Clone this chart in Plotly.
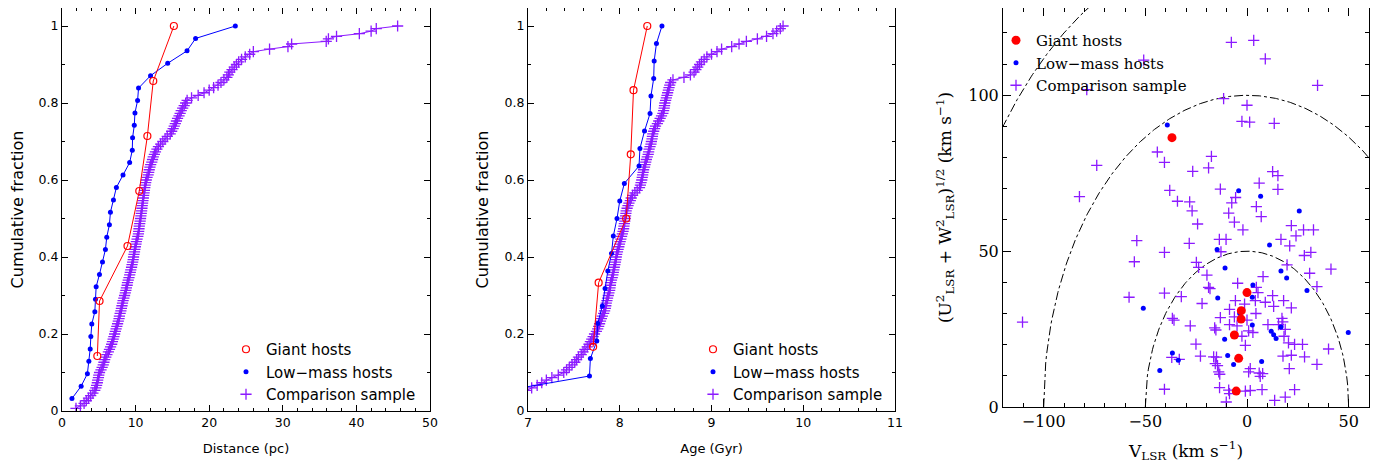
import plotly.graph_objects as go

# ---- panel 1: distance (pc) ----
giant_dist = [4.8, 5.1, 8.9, 10.5, 11.6, 12.4, 15.2]
lowmass_dist = [1.35, 2.6, 3.45, 3.65, 3.83, 3.92, 4.05, 4.46, 4.55, 4.64,
                5.09, 5.5, 5.9, 6.08, 6.44, 6.58, 6.99, 7.39, 8.29, 9.19,
                9.55, 9.59, 9.82, 9.91, 10.27, 10.4, 12.03, 14.36, 16.99, 18.15,
                23.55]
comp_dist = [1.9, 2.5, 3.0, 3.3, 3.6, 3.9, 4.2, 4.45, 4.6, 4.7,
             4.8, 4.85, 4.95, 5.0, 5.1, 5.3, 5.45, 5.6, 5.7, 5.8,
             5.95, 6.1, 6.3, 6.45, 6.6, 6.75, 6.85, 6.95, 7.05, 7.15,
             7.25, 7.35, 7.45, 7.55, 7.65, 7.75, 7.8, 7.9, 8.0, 8.07,
             8.15, 8.22, 8.3, 8.4, 8.5, 8.6, 8.68, 8.75, 8.85, 8.9,
             9.0, 9.1, 9.2, 9.28, 9.35, 9.45, 9.52, 9.6, 9.67, 9.72,
             9.78, 9.85, 9.9, 9.97, 10.05, 10.1, 10.2, 10.3, 10.38, 10.42,
             10.46, 10.5, 10.56, 10.62, 10.67, 10.72, 10.77, 10.82, 10.86, 10.9,
             10.95, 11.0, 11.05, 11.1, 11.15, 11.2, 11.25, 11.3, 11.37, 11.45,
             11.55, 11.7, 11.78, 11.85, 11.95, 12.05, 12.2, 12.3, 12.4, 12.55,
             12.7, 12.9, 13.1, 13.4, 13.7, 14.0, 14.3, 14.7, 14.9, 15.1,
             15.25, 15.4, 15.55, 15.7, 15.9, 16.05, 16.2, 16.4, 16.6, 16.8,
             17.0, 17.6, 18.5, 19.3, 20.0, 20.6, 21.2, 21.6, 22.0, 22.4,
             22.6, 22.8, 23.1, 23.4, 23.7, 24.0, 24.4, 24.9, 25.5, 26.0,
             28.2, 30.7, 31.2, 35.9, 36.2, 37.3, 40.4, 42.0, 42.7, 45.6]

# ---- panel 2: age (Gyr) ----
giant_age = [7.71, 7.77, 8.07, 8.12, 8.15, 8.30]
lowmass_age = [6.57, 7.67, 7.68, 7.75, 7.76, 7.81, 7.84, 7.87, 7.91, 7.93,
               7.97, 8.00, 8.05, 8.21, 8.22, 8.27, 8.33, 8.34, 8.37, 8.375,
               8.40, 8.46]
comp_age = [5.8, 6.2, 6.4, 6.6, 6.75, 6.85, 6.93, 6.98, 7.04, 7.10,
            7.15, 7.20, 7.26, 7.33, 7.39, 7.42, 7.45, 7.48, 7.51, 7.53,
            7.55, 7.58, 7.60, 7.62, 7.645, 7.665, 7.68, 7.695, 7.71, 7.725,
            7.745, 7.76, 7.77, 7.78, 7.79, 7.80, 7.81, 7.825, 7.835, 7.843,
            7.848, 7.853, 7.86, 7.867, 7.875, 7.882, 7.89, 7.894, 7.898, 7.902,
            7.91, 7.918, 7.925, 7.93, 7.935, 7.94, 7.947, 7.953, 7.958, 7.962,
            7.967, 7.975, 7.982, 7.99, 7.997, 8.004, 8.012, 8.02, 8.028, 8.036,
            8.042, 8.046, 8.05, 8.055, 8.06, 8.063, 8.067, 8.07, 8.08, 8.09,
            8.10, 8.115, 8.125, 8.14, 8.165, 8.19, 8.215, 8.225, 8.232, 8.24,
            8.245, 8.25, 8.255, 8.26, 8.27, 8.276, 8.283, 8.29, 8.30, 8.31,
            8.315, 8.32, 8.33, 8.34, 8.345, 8.352, 8.356, 8.36, 8.37, 8.38,
            8.39, 8.41, 8.425, 8.44, 8.455, 8.47, 8.478, 8.484, 8.488, 8.492,
            8.50, 8.508, 8.515, 8.522, 8.53, 8.537, 8.545, 8.555, 8.58, 8.70,
            8.77, 8.81, 8.83, 8.85, 8.87, 8.89, 8.92, 8.95, 9.0, 9.06,
            9.11, 9.22, 9.30, 9.38, 9.50, 9.60, 9.67, 9.71, 9.75, 9.78]

# ---- panel 3: Toomre diagram (km/s) ----
giant_v = [-36.9, 0.0, -2.8, -2.9, -6.2, -4.1, -5.3]
giant_uw = [86.4, 36.7, 30.9, 28.2, 23.1, 15.6, 5.1]
lowmass_v = [-39.2, -4.1, 6.7, -51.0, -36.7, -33.8, -42.9, 25.7, 11.1, -14.7,
             -10.8, 16.7, 19.5, 29.5, 2.9, -14.4, 2.6, -3.6, 2.6, 16.7,
             11.9, 13.1, 14.3, -11.0, 49.8, -9.5, -6.6, 7.2]
lowmass_uw = [90.5, 69.4, 67.6, 31.7, 17.3, 15.0, 11.7, 62.9, 52.0, 50.5,
              44.6, 43.6, 41.4, 37.4, 39.1, 35.0, 35.2, 30.0, 26.3, 25.7,
              24.3, 23.2, 22.0, 21.7, 23.9, 16.5, 13.6, 14.6]
comp_v = [-78.8, -50.8, 19.7, -7.7, 3.3, 9.0, 34.7, -11.5, 0.0, -2.5,
          1.3, 13.4, -73.9, -82.4, -44.1, -40.6, -38.0, -34.2, -28.2, -17.5,
          -26.7, -18.9, 12.6, 15.2, -13.1, 6.0, 15.2, -5.6, -7.5, -27.0,
          4.6, -9.0, 7.0, -24.3, -6.2, 21.8, -2.0, 24.1, 27.8, 32.7,
          -13.6, -10.3, -28.4, 16.7, 21.0, -40.6, -12.8, 28.2, 31.4, -24.9,
          -23.8, 19.7, 41.3, -19.7, 7.9, 30.8, -4.6, -18.9, -18.2, 34.4,
          -40.6, -32.3, 4.6, 5.4, 12.6, 18.0, 4.1, -5.7, -22.1, 9.0,
          13.1, -1.2, 21.8, -8.6, -13.1, -6.2, 4.4, 0.0, 17.2, 17.6,
          -27.9, -15.9, -15.3, -8.6, -4.9, 0.8, 2.9, 10.3, 15.5, 18.8,
          -2.5, 18.2, -25.1, -0.8, 20.4, 23.4, 27.3, 40.1, -22.9, -16.4,
          -15.0, -15.6, -14.5, -13.9, 1.6, 0.8, 17.7, 21.8, 28.3, 34.4,
          20.8, 6.0, 7.7, 6.5, -13.5, -9.0, -8.6, -0.8, 1.6, 7.4,
          23.4, -10.2, 13.6, 18.8, -54.2, -55.4, -58.0, -110.4, -36.7, -35.9,
          -37.0, -33.3, -40.6, -13.4]
comp_uw = [101.8, 111.3, 129.9, 117.0, 117.6, 111.7, 103.2, 98.9, 96.8, 91.6,
           91.4, 91.0, 77.5, 67.5, 81.8, 78.5, 69.5, 66.0, 65.8, 80.4,
           75.6, 76.7, 75.5, 74.2, 69.9, 71.8, 69.8, 67.2, 65.5, 62.9,
           64.3, 62.2, 61.1, 58.7, 59.3, 58.2, 56.8, 54.9, 56.8, 56.8,
           53.8, 53.8, 52.5, 53.8, 51.7, 49.6, 49.8, 48.6, 49.6, 46.4,
           44.8, 45.6, 44.2, 42.3, 41.8, 42.9, 39.7, 38.4, 38.0, 38.6,
           36.5, 35.4, 38.4, 36.7, 35.7, 34.1, 34.1, 34.1, 33.2, 33.6,
           32.3, 33.0, 31.8, 31.3, 28.7, 28.9, 30.0, 27.9, 28.4, 27.3,
           26.0, 25.4, 24.7, 26.4, 26.0, 24.4, 23.9, 26.4, 26.4, 24.9,
           22.7, 22.7, 20.2, 19.8, 20.6, 20.1, 20.1, 18.6, 16.3, 16.1,
           16.0, 13.9, 13.3, 11.3, 12.3, 11.3, 16.3, 16.6, 16.1, 13.7,
           12.3, 10.9, 10.7, 9.8, 6.2, 5.4, 4.3, 5.1, 5.3, 5.6,
           5.6, 1.6, 2.1, 3.2, 53.4, 46.6, 35.2, 27.2, 28.4, 27.9,
           15.9, 15.3, 5.7, 10.5]
total_speed = [50, 100, 150]
v_grid = [v / 2 for v in range(-300, 301)]

RED, BLUE, PURPLE = '#ff0000', '#0000ff', '#8c1aff'
SANS = 'DejaVu Sans'
SERIF = 'DejaVu Serif'


def cumulative(values):
    xs = sorted(values)
    n = len(xs)
    return xs, [(i + 1) / n for i in range(n)]


cross = dict(symbol='cross-thin-open', size=8, color=PURPLE, line=dict(width=1.3, color=PURPLE))
dot = dict(symbol='circle', size=5, color=BLUE, line=dict(width=0))

fig = go.Figure()

styles = [
    ('Comparison sample', PURPLE, cross, 3),
    ('Low−mass hosts', BLUE, dot, 2),
    ('Giant hosts', RED, dict(symbol='circle-open', size=7, color=RED, line=dict(width=1.2, color=RED)), 1),
]

panels = [
    ('x', 'y', 'legend', [comp_dist, lowmass_dist, giant_dist]),
    ('x2', 'y2', 'legend2', [comp_age, lowmass_age, giant_age]),
]
for xa, ya, leg, sets in panels:
    for (name, col, mk, rank), vals in zip(styles, sets):
        xs, fr = cumulative(vals)
        fig.add_trace(go.Scatter(x=xs, y=fr, mode='lines', line=dict(color=col, width=1),
                                 xaxis=xa, yaxis=ya, showlegend=False, hoverinfo='skip'))
        fig.add_trace(go.Scatter(x=xs, y=fr, mode='markers', marker=mk, name=name,
                                 xaxis=xa, yaxis=ya, legend=leg, legendrank=rank))

# Toomre diagram guide circles
for r in total_speed:
    vs = [v for v in v_grid if abs(v) <= r]
    fig.add_trace(go.Scatter(x=vs, y=[max(r * r - v * v, 0) ** 0.5 for v in vs], mode='lines',
                             line=dict(color='black', width=1, dash='dashdot'),
                             xaxis='x3', yaxis='y3', showlegend=False, hoverinfo='skip'))

scatter_sets = [
    ('Comparison sample', comp_v, comp_uw, cross, 3),
    ('Low−mass hosts', lowmass_v, lowmass_uw, dot, 2),
    ('Giant hosts', giant_v, giant_uw, dict(symbol='circle', size=9, color=RED, line=dict(width=0)), 1),
]
for name, xs, ys, mk, rank in scatter_sets:
    fig.add_trace(go.Scatter(x=xs, y=ys, mode='markers', marker=mk, name=name,
                             xaxis='x3', yaxis='y3', legend='legend3', legendrank=rank))

frame = dict(showline=True, linecolor='black', linewidth=1, mirror='ticks',
             ticks='inside', tickcolor='black', tickwidth=1, showgrid=False,
             zeroline=False)

# the page adds an 8px body margin, so the figure is laid out 8px up/left
OFF = 8
W, H = 1386 - OFF, 470 - OFF
L, R, T, B = 62 - OFF, 17, 0, 59
pw, ph = W - L - R, H - T - B


def xdom(a, b):
    return [(a - OFF - L) / pw, (b - OFF - L) / pw]


def ydom(top, bot):
    return [(H - B - (bot - OFF)) / ph, (H - B - (top - OFF)) / ph]


def lx(px):
    return (px - OFF - L) / pw


def ly(py):
    return (H - B - (py - OFF)) / ph


sans_ticks = dict(family=SANS, size=12.5, color='black')
serif_ticks = dict(family=SERIF, size=16, color='black')

fig.update_layout(
    width=W, height=H,
    margin=dict(l=L, r=R, t=T, b=B),
    paper_bgcolor='white', plot_bgcolor='white',
    xaxis=dict(frame, domain=xdom(62, 430), range=[0, 50], dtick=10, tick0=0, ticklen=6,
               minor=dict(dtick=2, ticklen=3, ticks='inside', tickcolor='black'),
               tickfont=sans_ticks, anchor='y',
               title=dict(text='Distance (pc)', font=dict(family=SANS, size=13, color='black'), standoff=14)),
    yaxis=dict(frame, domain=ydom(8, 411), range=[0, 1.0468], dtick=0.2, tick0=0, ticklen=6,
               minor=dict(dtick=0.1, ticklen=3, ticks='inside', tickcolor='black'),
               tickfont=sans_ticks, anchor='x',
               title=dict(text='Cumulative fraction', font=dict(family=SANS, size=16, color='black'), standoff=12)),
    xaxis2=dict(frame, domain=xdom(528, 895), range=[7, 11], dtick=1, tick0=7, ticklen=6,
                minor=dict(dtick=0.2, ticklen=3, ticks='inside', tickcolor='black'),
                tickfont=sans_ticks, anchor='y2',
                title=dict(text='Age (Gyr)', font=dict(family=SANS, size=13, color='black'), standoff=14)),
    yaxis2=dict(frame, domain=ydom(8, 411), range=[0, 1.0468], dtick=0.2, tick0=0, ticklen=6,
                minor=dict(dtick=0.1, ticklen=3, ticks='inside', tickcolor='black'),
                tickfont=sans_ticks, anchor='x2',
                title=dict(text='Cumulative fraction', font=dict(family=SANS, size=16, color='black'), standoff=12)),
    xaxis3=dict(frame, domain=xdom(1003, 1369), range=[-120, 60], dtick=50, tick0=0, ticklen=8,
                minor=dict(dtick=10, ticklen=4, ticks='inside', tickcolor='black'),
                tickfont=serif_ticks, anchor='y3',
                title=dict(text='V<sub>LSR</sub> (km s<sup>−1</sup>)',
                           font=dict(family=SERIF, size=17, color='black'), standoff=14)),
    yaxis3=dict(frame, domain=ydom(8, 407), range=[0, 128], dtick=50, tick0=0, ticklen=8,
                minor=dict(dtick=10, ticklen=4, ticks='inside', tickcolor='black'),
                tickfont=serif_ticks, anchor='x3',
                title=dict(text='(U<sup>2</sup><sub>LSR</sub> + W<sup>2</sup><sub>LSR</sub>)<sup>1/2</sup> (km s<sup>−1</sup>)',
                           font=dict(family=SERIF, size=17, color='black'), standoff=12)),
    legend=dict(x=lx(226), y=ly(333), xanchor='left', yanchor='top',
                bgcolor='rgba(0,0,0,0)', font=dict(family=SANS, size=15, color='black'),
                itemsizing='trace'),
    legend2=dict(x=lx(693), y=ly(333), xanchor='left', yanchor='top',
                 bgcolor='rgba(0,0,0,0)', font=dict(family=SANS, size=15, color='black'),
                 itemsizing='trace'),
    legend3=dict(x=lx(996), y=ly(24), xanchor='left', yanchor='top',
                 bgcolor='rgba(0,0,0,0)', font=dict(family=SERIF, size=15, color='black'),
                 itemsizing='trace'),
)

fig.write_html("out.html")
